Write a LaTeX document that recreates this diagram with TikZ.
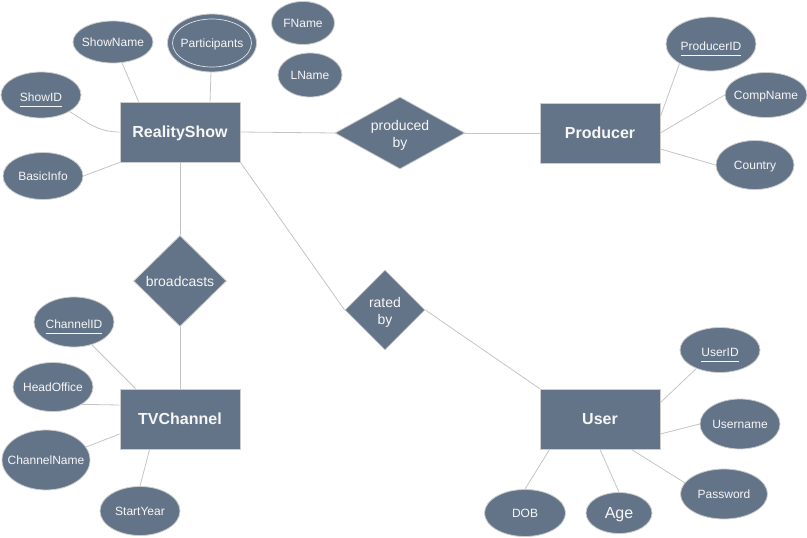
\documentclass[tikz,border=0pt]{standalone}
\usepackage{fontspec}
\setmainfont{Liberation Sans}
\usetikzlibrary{shapes.geometric,calc}
\definecolor{boxfill}{RGB}{100,116,136}
\definecolor{edgecol}{RGB}{196,196,196}
\definecolor{bordcol}{RGB}{205,205,205}
\definecolor{txtcol}{RGB}{246,246,246}
\newcommand\az[1]{\makebox[0pt]{#1}}
\newcommand\keytxt[1]{\makebox[0pt]{\setbox0\hbox{#1}\rlap{\smash{\color{txtcol}\rule[-6pt]{\wd0}{0.7pt}}}\box0}}
\begin{document}
\begin{tikzpicture}[x=1pt,y=-1pt,
 entity/.style={rectangle,draw=bordcol,line width=0.8pt,fill=boxfill,text=txtcol,font=\bfseries\fontsize{16}{19}\selectfont,minimum width=120pt,minimum height=60pt,inner sep=0,text depth=0pt},
 attr/.style={ellipse,draw=bordcol,line width=0.8pt,fill=boxfill,text=txtcol,font=\fontsize{12}{14}\selectfont,inner sep=0,text depth=0pt},
 keyattr/.style={attr,text height=12.2pt},
 rel/.style={diamond,draw=bordcol,line width=0.8pt,fill=boxfill,inner sep=0},
 reltxt/.style={text=txtcol,font=\fontsize{14}{17.5}\selectfont,align=center,inner sep=0},
 conn/.style={draw=edgecol,line width=0.8pt}]
\useasboundingbox (0,0) rectangle (807,538);

% entities
\node[entity] (RS) at (180,132) {RealityShow};
\node[entity] (P) at (600,133) {Producer};
\node[entity] (TV) at (180,419) {TVChannel};
\node[entity] (U) at (600,419) {User};

% relationships
\node[rel,minimum width=130pt,minimum height=72pt] (PB) at (400,133) {};
\node[reltxt] (PBt) at ($(PB)+(0,2.5)$) {produced\\by};
\node[rel,minimum width=93pt,minimum height=91pt] (BC) at (180,281) {};
\node[reltxt] (BCt) at (BC) {broadcasts};
\node[rel,minimum width=80pt,minimum height=80pt] (RB) at (385,310) {};
\node[reltxt] (RBt) at ($(RB)+(0,2.5)$) {rated\\by};

% attributes
\node[attr,minimum width=80pt,minimum height=42pt] (SN) at (113,42) {\az{ShowName}};
\node[attr,minimum width=89pt,minimum height=58pt] (PA) at (212,43) {\az{Participants}};
\node[ellipse,draw=txtcol!85!boxfill,line width=0.7pt,minimum width=79pt,minimum height=48pt,inner sep=0] (PAi) at (PA) {};
\node[attr,minimum width=63pt,minimum height=43pt] (FN) at (303,23) {\az{FName}};
\node[attr,minimum width=64pt,minimum height=44pt] (LN) at (310,75) {\az{LName}};
\node[keyattr,minimum width=80pt,minimum height=46pt] (SID) at (41,95) {\keytxt{ShowID}};
\node[attr,minimum width=80pt,minimum height=47pt] (BI) at (43,176) {\az{BasicInfo}};
\node[keyattr,minimum width=90pt,minimum height=54pt] (PID) at (711,44) {\keytxt{ProducerID}};
\node[attr,minimum width=82pt,minimum height=45pt] (CN) at (766,95) {\az{CompName}};
\node[attr,minimum width=78pt,minimum height=49pt] (CO) at (755,165) {\az{Country}};
\node[keyattr,minimum width=80pt,minimum height=50pt] (CID) at (74,322) {\keytxt{ChannelID}};
\node[attr,minimum width=80pt,minimum height=49pt] (HO) at (53,387) {\az{HeadOffice}};
\node[attr,minimum width=88pt,minimum height=60pt] (CNm) at (46,460) {\az{ChannelName}};
\node[attr,minimum width=80pt,minimum height=49pt] (SY) at (140,511) {\az{StartYear}};
\node[keyattr,minimum width=80pt,minimum height=45pt] (UID) at (720,350) {\keytxt{UserID}};
\node[attr,minimum width=80pt,minimum height=50pt] (UN) at (740,424) {\az{Username}};
\node[attr,minimum width=87pt,minimum height=50pt] (PW) at (724,494) {\az{Password}};
\node[attr,minimum width=81pt,minimum height=47pt] (DOB) at (525,513) {\az{DOB}};
\node[attr,minimum width=66pt,minimum height=41pt,font=\fontsize{16}{19}\selectfont] (AG) at (619,513) {\az{Age}};

% connectors
\draw[conn] (SN) -- ($(RS.north west)+(19,0)$);
\draw[conn] (PA) -- ($(RS.north)+(30,0)$);
\draw[conn] (SID.-30) to[out=-32,in=180] (RS.west);
\draw[conn] (BI.east) -- (RS.south west);
\draw[conn] (RS.east) -- (PB.west);
\draw[conn] (PB.east) -- (P.west);
\draw[conn] (PID.-148) -- ($(P.north east)+(0,14)$);
\draw[conn] (CN.west) -- (P.east);
\draw[conn] (CO.west) -- ($(P.east)+(0,16)$);
\draw[conn] (RS.south) -- (BC.north);
\draw[conn] (BC.south) -- (TV.north);
\draw[conn] (RS.south east) -- (RB.west);
\draw[conn] (RB.east) -- (U.north west);
\draw[conn] (CID.-52) -- ($(TV.north west)+(16,0)$);
\draw[conn] (HO.-31) -- ($(TV.west)+(0,-14)$);
\draw[conn] (CNm.18) -- ($(TV.west)+(0,15)$);
\draw[conn] (SY.north) -- ($(TV.south west)+(30,0)$);
\draw[conn] (UID.-142) -- ($(U.north east)+(0,14)$);
\draw[conn] (UN.west) -- ($(U.east)+(0,15)$);
\draw[conn] (PW.164) -- ($(U.south east)+(-29,0)$);
\draw[conn] (DOB.north) -- ($(U.south west)+(10,0)$);
\draw[conn] (AG.north) -- (U.south);
\end{tikzpicture}
\end{document}
